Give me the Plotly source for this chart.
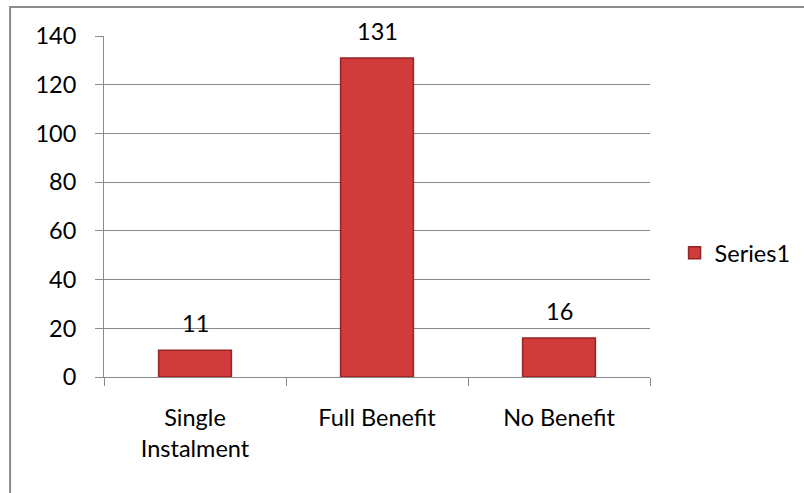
import plotly.graph_objects as go

categories = ["Single<br>Instalment", "Full Benefit", "No Benefit"]
values = [11, 131, 16]
series_name = "Series1"
y_ticks = [0, 20, 40, 60, 80, 100, 120, 140]

FONT = "Lato, Calibri, Carlito, sans-serif"
GRID = "#8a8a8a"
FS = 23.5

fig = go.Figure()
fig.add_trace(go.Bar(
    x=categories, y=values, name=series_name,
    width=0.40,
    marker=dict(color="#D03B3B", line=dict(color="#962424", width=1.5)),
    showlegend=True,
))

for c, v in zip(categories, values):
    fig.add_annotation(x=c, y=v, text=str(v), showarrow=False,
                       yanchor="bottom", yshift=11,
                       font=dict(family=FONT, size=FS, color="black"))

fig.update_layout(
    width=804, height=493,
    margin=dict(l=104, r=154, t=36, b=116, autoexpand=False),
    paper_bgcolor="white", plot_bgcolor="white",
    font=dict(family=FONT, size=FS, color="black"),
    bargap=0.6,
    legend=dict(x=1.045, y=0.364, xanchor="left", yanchor="middle",
                font=dict(family=FONT, size=FS, color="black"),
                bgcolor="rgba(0,0,0,0)"),
    shapes=[dict(type="rect", xref="paper", yref="paper",
                 x0=-0.172, x1=1.6, y0=-0.6, y1=1.085,
                 line=dict(color="#8c8c8c", width=2), layer="below")],
)
fig.update_yaxes(range=[0, 140], tickvals=y_ticks, showgrid=True, gridcolor=GRID,
                 gridwidth=1, showline=True, linecolor=GRID, linewidth=1,
                 ticks="outside", ticklen=8, tickcolor=GRID, zeroline=False,
                 ticklabelstandoff=14, tickfont=dict(size=FS))
fig.update_xaxes(showline=True, linecolor=GRID, linewidth=1, ticks="outside",
                 tickson="boundaries", ticklen=8, tickcolor=GRID,
                 ticklabelstandoff=20, tickfont=dict(size=FS))

fig.write_html("out.html")
